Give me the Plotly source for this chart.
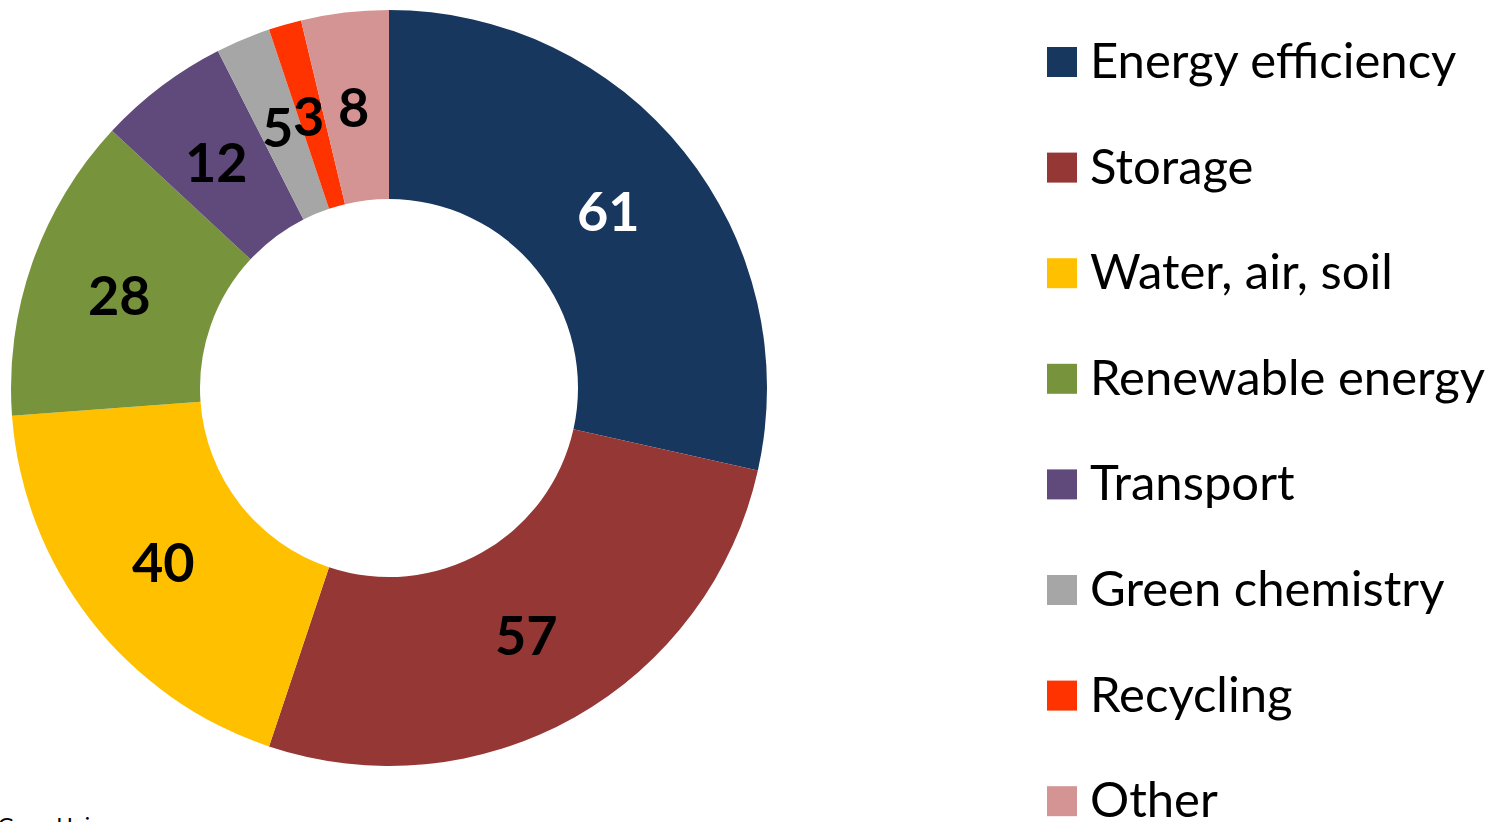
import math
import plotly.graph_objects as go

labels = ["Energy efficiency", "Storage", "Water, air, soil", "Renewable energy",
          "Transport", "Green chemistry", "Recycling", "Other"]
values = [61, 57, 40, 28, 12, 5, 3, 8]
colors = ["#17375E", "#953735", "#FFC000", "#77933C",
          "#604A7B", "#A6A6A6", "#FF3300", "#D49494"]
label_colors = ["white", "black", "black", "black", "black", "black", "black", "black"]
source_text = "GreenUnivers.com"

W, H = 1500, 822
cx, cy, r = 389, 388, 378

fig = go.Figure()
fig.add_trace(go.Pie(
    labels=labels, values=values, sort=False, direction="clockwise", rotation=0,
    hole=0.5,
    marker=dict(colors=colors, line=dict(width=0)),
    textinfo="none",
    domain=dict(x=[(cx - r) / W, (cx + r) / W],
                y=[(H - cy - r) / H, (H - cy + r) / H]),
    showlegend=False, hoverinfo="label+value",
))

annotations = []
# data labels at slice mid-angles, mid-ring radius
total = sum(values)
cum = 0
lab_r = 0.75 * r
for v, c in zip(values, label_colors):
    mid = (cum + v / 2) / total * 2 * math.pi
    cum += v
    px = cx + lab_r * math.sin(mid) - 2
    py = cy - lab_r * math.cos(mid)
    annotations.append(dict(text=str(v), xref="paper", yref="paper",
                            x=px / W, y=(H - py) / H, xanchor="center", yanchor="middle",
                            showarrow=False,
                            font=dict(family="Lato", size=54, color=c, weight="bold")))

# manual legend
shapes = []
y0 = 62
step = 105.6
for i, lab in enumerate(labels):
    yc = y0 + i * step
    shapes.append(dict(type="rect", xref="paper", yref="paper",
                       x0=1047 / W, x1=1077 / W,
                       y0=(H - yc - 15) / H, y1=(H - yc + 15) / H,
                       fillcolor=colors[i], line=dict(width=0)))
    annotations.append(dict(text=lab, xref="paper", yref="paper",
                            x=1088 / W, y=(H - yc + 3) / H, xanchor="left", yanchor="middle",
                            showarrow=False, font=dict(family="Lato", size=49, color="black")))

annotations.append(dict(text=source_text, xref="paper", yref="paper", x=-0.003, y=(H - 809) / H,
                        xanchor="left", yanchor="top", showarrow=False,
                        font=dict(family="Lato", size=22, color="black")))

fig.update_layout(
    width=W, height=H, margin=dict(l=0, r=0, t=0, b=0),
    paper_bgcolor="white", plot_bgcolor="white",
    shapes=shapes, annotations=annotations,
)
fig.write_html("out.html", config={"displayModeBar": False},
               post_script="document.body.style.margin='0';")
